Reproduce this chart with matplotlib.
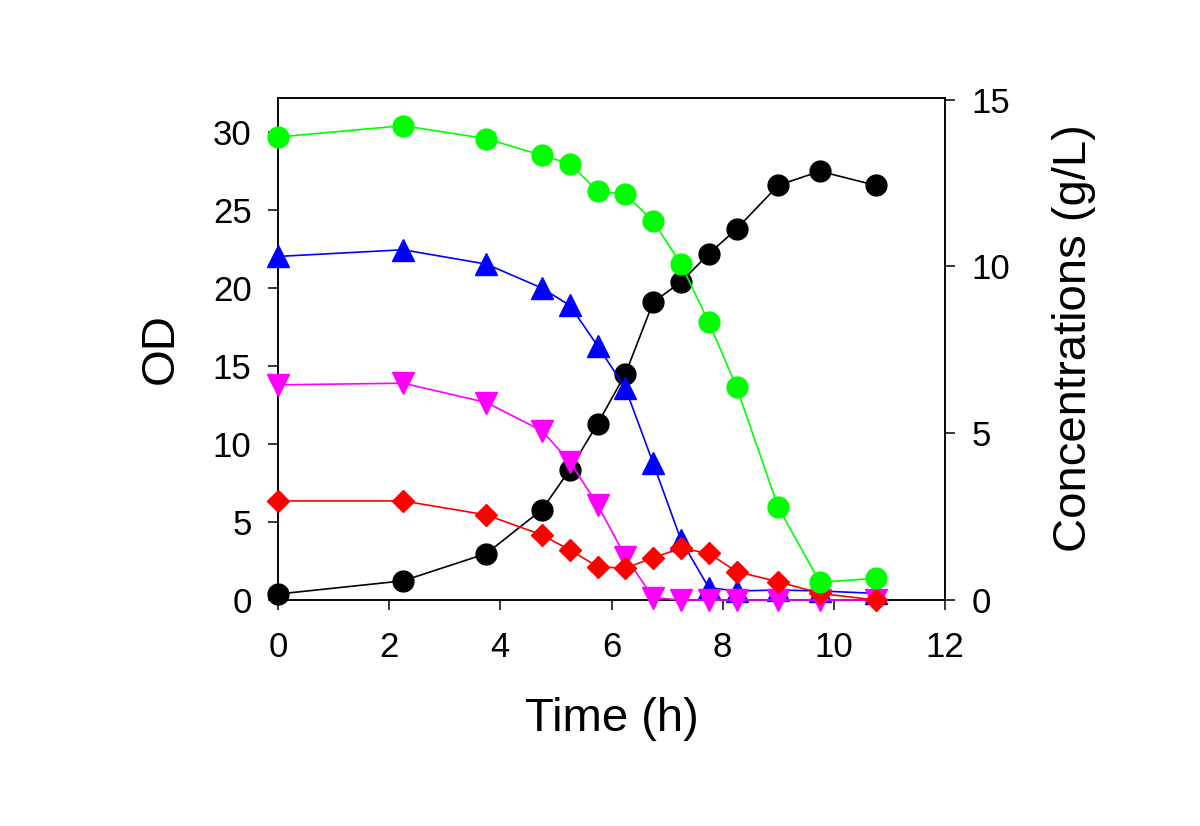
import matplotlib
matplotlib.use("Agg")
import matplotlib.pyplot as plt

plt.rcParams['font.family'] = ['Liberation Sans', 'DejaVu Sans']

time_h = [0, 2.25, 3.75, 4.75, 5.25, 5.75, 6.25, 6.75, 7.25, 7.75, 8.25, 9.0, 9.75, 10.75]
od = [0.38, 1.23, 2.98, 5.8, 8.36, 11.3, 14.5, 19.1, 20.4, 22.2, 23.8, 26.6, 27.5, 26.6]
green = [13.88, 14.22, 13.83, 13.33, 13.08, 12.26, 12.16, 11.36, 10.07, 8.33, 6.38, 2.78, 0.53, 0.65]
blue = [10.30, 10.50, 10.07, 9.35, 8.83, 7.62, 6.35, 4.10, 1.80, 0.37, 0.27, 0.30, 0.27, 0.20]
magenta = [6.45, 6.50, 5.92, 5.07, 4.15, 2.85, 1.30, 0.07, 0.0, 0.0, 0.0, 0.0, 0.0, 0.0]
red = [2.97, 2.97, 2.55, 1.95, 1.50, 1.00, 0.95, 1.27, 1.55, 1.40, 0.85, 0.55, 0.20, 0.0]

x_ticks = [0, 2, 4, 6, 8, 10, 12]
left_ticks = [0, 5, 10, 15, 20, 25, 30]
right_ticks = [0, 5, 10, 15]

fig = plt.figure(figsize=(12, 8.26), dpi=100)
ax = fig.add_axes([278/1200, 1-600/826, (945-278)/1200, (600-98)/826])
ax2 = ax.twinx()

lw = 1.2
ax.plot(time_h, od, color='black', marker='o', markersize=15, lw=lw, clip_on=False, zorder=3)
ax2.plot(time_h, blue, color='#0000FF', marker='^', markersize=16, lw=lw, clip_on=False, zorder=3)
ax2.plot(time_h, magenta, color='#FF00FF', marker='v', markersize=16, lw=lw, clip_on=False, zorder=4)
ax2.plot(time_h, red, color='#FF0000', marker='D', markersize=11.5, lw=lw, clip_on=False, zorder=5)
ax2.plot(time_h, green, color='#00FF00', marker='o', markersize=15, lw=lw, clip_on=False, zorder=6)

ax.set_xlim(0, 12)
ax.set_ylim(0, 32.2)
ax2.set_ylim(0, 15.05)
ax.set_xticks(x_ticks)
ax.set_yticks(left_ticks)
ax2.set_yticks(right_ticks)

for a in (ax, ax2):
    for s in a.spines.values():
        s.set_linewidth(1.1)
    a.tick_params(direction='out', length=7, width=1.1, labelsize=25, pad=12)
ax.tick_params(axis='x', pad=15)

ax.set_xlabel('Time (h)', fontsize=34, labelpad=24)
ax.set_ylabel('OD', fontsize=34, labelpad=22)
ax2.set_ylabel('Concentrations (g/L)', fontsize=34, labelpad=30)
ax2.yaxis.label.set_y(0.522)

fig.savefig('out.png', dpi=100)
